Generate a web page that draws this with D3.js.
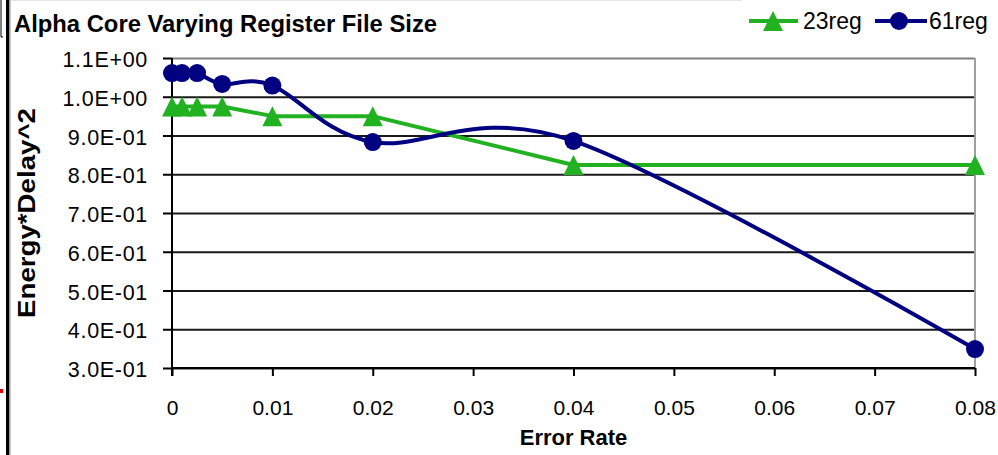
<!DOCTYPE html>
<html lang="en">
<head>
<meta charset="UTF-8">
<title>Alpha Core Varying Register File Size</title>
<script src="https://cdn.jsdelivr.net/npm/d3@7"></script>
<style>
    html, body { margin: 0; padding: 0; background: #fff; }
    svg { display: block; font-family: "Liberation Sans", Arial, sans-serif; }
</style>
</head>
<body>
<script>
    // data
    var errorRate = [0, 0.001, 0.0025, 0.005, 0.01, 0.02, 0.04, 0.08];
    var reg23 = [0.975, 0.975, 0.975, 0.975, 0.95, 0.95, 0.824, 0.824];
    var reg61 = [1.061, 1.061, 1.061, 1.033, 1.029, 0.883, 0.886, 0.349];
    var seriesNames = ["23reg", "61reg"];

    var yTicks = [0.3, 0.4, 0.5, 0.6, 0.7, 0.8, 0.9, 1.0, 1.1];
    var yTickLabels = ["3.0E-01", "4.0E-01", "5.0E-01", "6.0E-01", "7.0E-01",
        "8.0E-01", "9.0E-01", "1.0E+00", "1.1E+00"];
    var xTicks = [0, 0.01, 0.02, 0.03, 0.04, 0.05, 0.06, 0.07, 0.08];
    var xTickLabels = ["0", "0.01", "0.02", "0.03", "0.04", "0.05", "0.06", "0.07", "0.08"];

    var width = 998, height = 455;
    // plot area ("top" is taken by window.top, so use plot* names)
    var plotLeft = 172, plotRight = 975, plotTop = 58, plotBottom = 368;
    var green = "#21b121", navy = "#000080";

    var svg = d3.select("body").append("svg")
        .attr("width", width)
        .attr("height", height);

    // frame bits at the left edge of the screenshot
    svg.append("rect").attr("x", 6).attr("y", 0).attr("width", 3).attr("height", height).attr("fill", "#000");
    svg.append("rect").attr("x", 9).attr("y", 0).attr("width", 1.5).attr("height", height).attr("fill", "#999");
    svg.append("path").attr("d", "M1,0V37H3").attr("fill", "none").attr("stroke", "#000").attr("stroke-width", 1);
    svg.append("rect").attr("x", 0).attr("y", 389).attr("width", 3).attr("height", 4).attr("fill", "#e00000");
    svg.append("line").attr("x1", 11).attr("x2", 742).attr("y1", 0.5).attr("y2", 0.5)
        .attr("stroke", "#e4e4e4").attr("stroke-width", 1);

    var x = d3.scaleLinear().domain([0, 0.08]).range([plotLeft, plotRight]);
    var y = d3.scaleLinear().domain([0.3, 1.1]).range([plotBottom, plotTop]);

    // gridlines
    var grid = svg.append("g")
        .attr("transform", "translate(" + plotLeft + ",0)")
        .call(d3.axisLeft(y).tickValues(yTicks).tickSize(-(plotRight - plotLeft)).tickFormat(""));
    grid.select(".domain").remove();
    grid.selectAll("line")
        .attr("stroke", function (d) { return d === 1.1 ? "#808080" : "#1a1a1a"; })
        .attr("stroke-width", 2);

    // right border
    svg.append("line")
        .attr("x1", plotRight).attr("x2", plotRight).attr("y1", plotTop).attr("y2", plotBottom)
        .attr("stroke", "#a0a0a0").attr("stroke-width", 2);

    // y axis
    var yAxis = svg.append("g")
        .attr("transform", "translate(" + plotLeft + ",0)")
        .call(d3.axisLeft(y).tickValues(yTicks).tickSize(9).tickPadding(15)
            .tickFormat(function (d, i) { return yTickLabels[i]; }));
    yAxis.select(".domain").attr("d", "M0," + plotTop + "V" + (plotBottom + 8)).attr("stroke", "#000").attr("stroke-width", 2);
    yAxis.selectAll("line").attr("stroke", "#000").attr("stroke-width", 2);
    yAxis.selectAll("text")
        .attr("font-size", 21.5).attr("fill", "#000").attr("dy", "0.4em")
        .attr("letter-spacing", 0.7);

    // x axis
    var xAxis = svg.append("g")
        .attr("transform", "translate(0," + plotBottom + ")")
        .call(d3.axisBottom(x).tickValues(xTicks).tickSize(8).tickPadding(24)
            .tickFormat(function (d, i) { return xTickLabels[i]; }));
    xAxis.select(".domain").attr("d", "M" + plotLeft + ",0H" + plotRight).attr("stroke", "#000").attr("stroke-width", 2);
    xAxis.selectAll("line").attr("stroke", "#000").attr("stroke-width", 2);
    xAxis.selectAll("text").attr("font-size", 21).attr("fill", "#000");

    // titles
    svg.append("text")
        .attr("x", 14).attr("y", 32)
        .attr("font-size", 23).attr("font-weight", "bold")
        .attr("textLength", 423).attr("lengthAdjust", "spacingAndGlyphs")
        .text("Alpha Core Varying Register File Size");

    svg.append("text")
        .attr("x", (plotLeft + plotRight) / 2).attr("y", 445)
        .attr("text-anchor", "middle")
        .attr("font-size", 22).attr("font-weight", "bold")
        .text("Error Rate");

    svg.append("text")
        .attr("transform", "translate(35," + ((plotTop + plotBottom) / 2) + ") rotate(-90)")
        .attr("text-anchor", "middle")
        .attr("font-size", 23).attr("font-weight", "bold")
        .attr("textLength", 210).attr("lengthAdjust", "spacingAndGlyphs")
        .text("Energy*Delay^2");

    var triangle = "M0,-10L10,10L-10,10Z";

    // 23reg: straight segments
    var line23 = d3.line()
        .x(function (d, i) { return x(errorRate[i]); })
        .y(function (d) { return y(d); });
    svg.append("path")
        .attr("d", line23(reg23))
        .attr("fill", "none").attr("stroke", green).attr("stroke-width", 4)
        .attr("stroke-linejoin", "round");
    svg.selectAll(".tri")
        .data(reg23)
        .enter()
        .append("path")
        .attr("class", "tri")
        .attr("d", triangle)
        .attr("transform", function (d, i) {
            return "translate(" + x(errorRate[i]) + "," + y(d) + ")";
        })
        .attr("fill", green);

    // 61reg: smoothed line like excel
    var line61 = d3.line()
        .x(function (d, i) { return x(errorRate[i]); })
        .y(function (d) { return y(d); })
        .curve(d3.curveCardinal.tension(0));
    svg.append("path")
        .attr("d", line61(reg61))
        .attr("fill", "none").attr("stroke", navy).attr("stroke-width", 4);
    svg.selectAll(".dot")
        .data(reg61)
        .enter()
        .append("circle")
        .attr("class", "dot")
        .attr("cx", function (d, i) { return x(errorRate[i]); })
        .attr("cy", function (d) { return y(d); })
        .attr("r", 9)
        .attr("fill", navy);

    // legend
    var legend = svg.append("g").attr("transform", "translate(749,21)");
    legend.append("line").attr("x1", 0).attr("x2", 49).attr("stroke", green).attr("stroke-width", 4);
    legend.append("path").attr("d", triangle).attr("transform", "translate(24,0)").attr("fill", green);
    legend.append("text").attr("x", 54).attr("y", 8).attr("font-size", 23).text(seriesNames[0]);
    legend.append("line").attr("x1", 126).attr("x2", 178).attr("stroke", navy).attr("stroke-width", 4);
    legend.append("circle").attr("cx", 150).attr("cy", 0).attr("r", 9).attr("fill", navy);
    legend.append("text").attr("x", 180).attr("y", 8).attr("font-size", 23).text(seriesNames[1]);
</script>
</body>
</html>
